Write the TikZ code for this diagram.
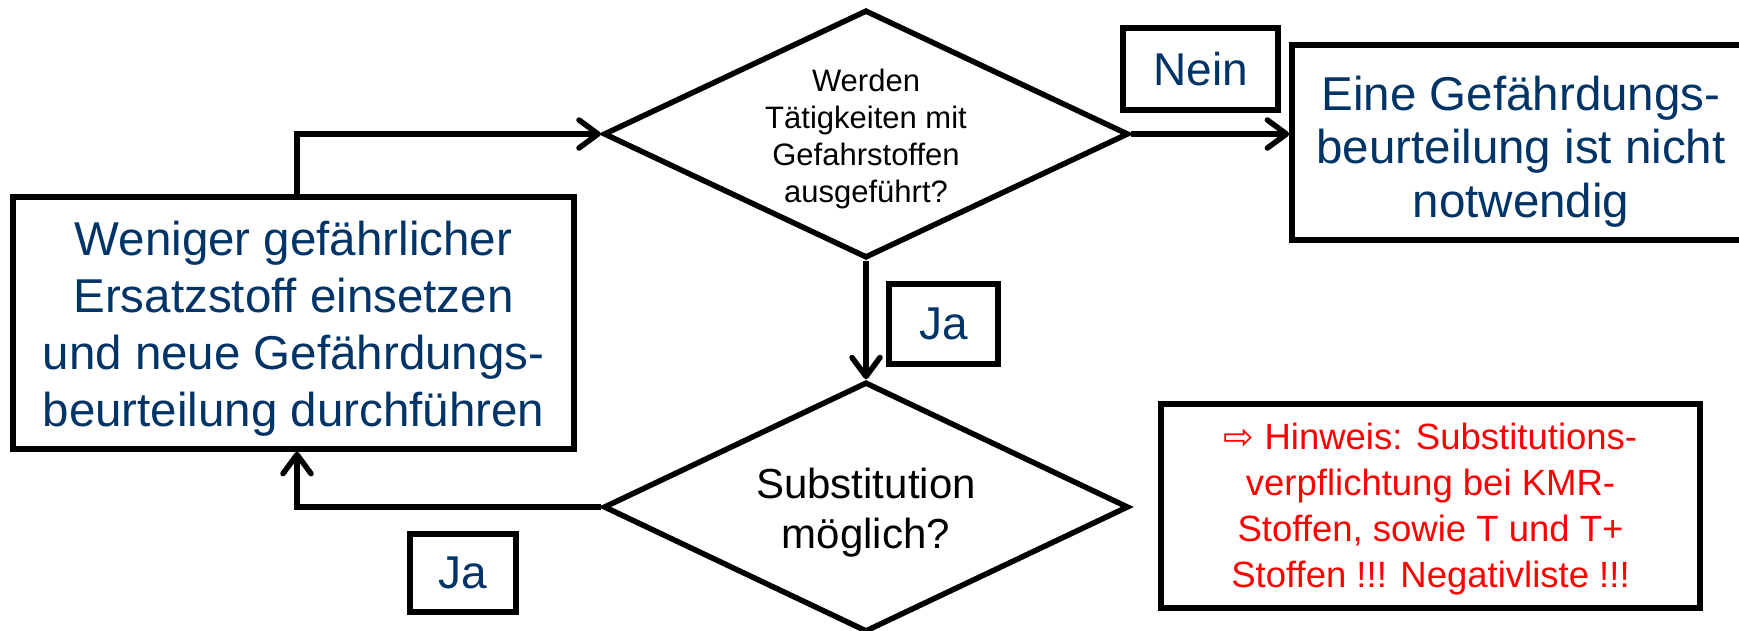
\documentclass[tikz,border=0pt]{standalone}
\usepackage{fontspec}
\setmainfont{Liberation Sans}
\newfontfamily\dejavu{DejaVu Sans}
\usetikzlibrary{arrows.meta,shapes.geometric}
\definecolor{dblue}{RGB}{0,51,102}
\definecolor{hred}{RGB}{255,0,0}
\tikzset{
  box/.style={draw=black, line width=5.7pt, rectangle, inner sep=0pt},
  txt/.style={align=center, text=dblue, inner sep=0pt},
  lbl/.style={box, align=center, text=dblue, font=\fontsize{46}{52}\selectfont},
  dia/.style={draw=black, line width=5.5pt, diamond, inner sep=0pt, minimum width=525pt},
  arr/.style={draw=black, line width=5.5pt, -{Straight Barb[length=19pt,width=28pt,round]}},
}
\begin{document}
\begin{tikzpicture}[x=1pt,y=-1pt]
\useasboundingbox (0,0) rectangle (1739,630);
\fill[white] (0,0) rectangle (1739,630);
\clip (0,0) rectangle (1739,630);

% main boxes
\node[box, minimum width=561pt, minimum height=252pt] (lb) at (293.5,323) {};
\node[txt, font=\fontsize{47.5}{57}\selectfont] (lbt) at (293.5,329)
  {Weniger gefährlicher\\Ersatzstoff einsetzen\\und neue Gefährdungs-\\beurteilung durchführen};
\node[box, minimum width=458pt, minimum height=195pt] (rb) at (1521,142.5) {};
\node[txt, font=\fontsize{47.5}{53.5}\selectfont] (rbt) at (1521,151.5)
  {Eine Gefährdungs-\\beurteilung ist nicht\\notwendig};
\node[box, minimum width=539pt, minimum height=204pt] (hw) at (1430.5,506) {};
\node[txt, text=hred, font=\fontsize{36.5}{46}\selectfont] (hwt) at (1430.5,509)
  {{\dejavu ⇨} Hinweis: Substitutions-\\verpflichtung bei KMR-\\Stoffen, sowie T und T+\\Stoffen !!! Negativliste !!!};

% diamonds
\node[dia, minimum height=248pt] (d1) at (866,134) {};
\node[align=center, font=\fontsize{31}{37}\selectfont] (d1t) at (866,139)
  {Werden\\Tätigkeiten mit\\Gefahrstoffen\\ausgeführt?};
\node[dia, minimum height=250pt] (d2) at (866,507) {};
\node[align=center, font=\fontsize{42}{50}\selectfont] (d2t) at (866,513)
  {Substitution\\möglich?};

% labels
\node[lbl, minimum width=155pt, minimum height=82pt] (nein) at (1200.5,69) {Nein};
\node[lbl, minimum width=109pt, minimum height=80pt] (ja1) at (943.5,324) {Ja};
\node[lbl, minimum width=106pt, minimum height=78pt] (ja2) at (463,573) {Ja};

% connectors
\coordinate (c1) at (297,135);
\draw[arr] (lb.north -| c1) |- (d1.west);
\draw[arr] (d1.east) -- (rb.west |- d1.east);
\draw[arr] (d1.south) -- (d2.north);
\draw[arr] (d2.west) -| (lb.south -| c1);
\end{tikzpicture}
\end{document}
